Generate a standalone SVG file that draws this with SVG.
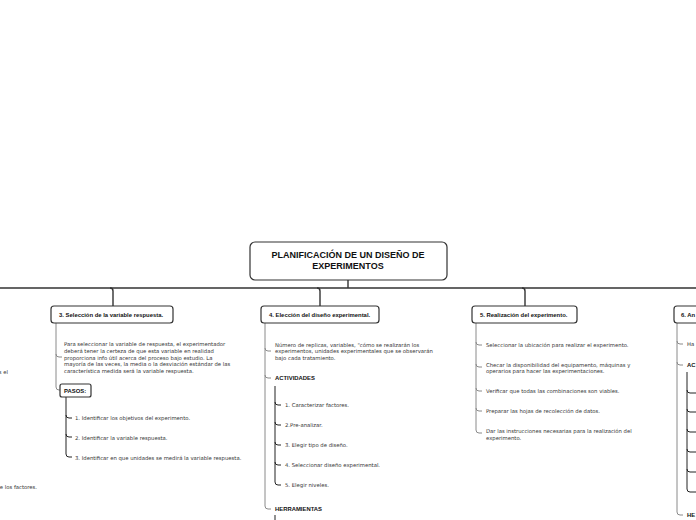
<svg xmlns="http://www.w3.org/2000/svg" width="696" height="520" viewBox="0 0 696 520">
<style>
.box{fill:#fff;stroke:#333;stroke-width:1.2}
.main{fill:none;stroke:#333;stroke-width:1.4}
.br{fill:none;stroke:#8a8a8a;stroke-width:1}
.sub{fill:none;stroke:#222;stroke-width:1}
.t{font-family:"DejaVu Sans",Verdana,sans-serif;font-size:5.3px;fill:#333}
.b{font-family:"Liberation Sans",Arial,sans-serif;font-size:5.9px;font-weight:bold;fill:#111}
.title{font-family:"Liberation Sans",Arial,sans-serif;font-size:9px;font-weight:bold;fill:#111;text-anchor:middle}
</style>
<rect width="696" height="520" fill="#fff"/>
<g id="connectors">
<path class="main" d="M348,280 V288 M0,288 H696"/>
<path class="main" d="M110,288 q3,0 3,3 V306"/>
<path class="main" d="M317,288 q3,0 3,3 V306"/>
<path class="main" d="M522,288 q3,0 3,3 V306"/>
<!-- col 3 -->
<path class="br" d="M56,323 V354 q0,3 3,3 h3 M56,354 V387 q0,3 3,3 h1"/>
<path class="sub" d="M66,397 V415 q0,3 3,3 h3 M66,415 V434 q0,3 3,3 h3 M66,434 V454 q0,3 3,3 h3" stroke="#555"/>
<!-- col 4 -->
<path class="br" d="M265,323 V348 q0,3 3,3 h3 M265,348 V375 q0,3 3,3 h3 M265,375 V506 q0,3 3,3 h3"/>
<path class="sub" d="M275,386 V402 q0,3 3,3 h3 M275,402 V422 q0,3 3,3 h3 M275,422 V442 q0,3 3,3 h3 M275,442 V462 q0,3 3,3 h3 M275,462 V482 q0,3 3,3 h3"/>
<path class="sub" d="M275,515 V520"/>
<!-- col 5 -->
<path class="br" d="M476,323 V342 q0,3 3,3 h3 M476,342 V364 q0,3 3,3 h3 M476,364 V388 q0,3 3,3 h3 M476,388 V408 q0,3 3,3 h3 M476,408 V430 q0,3 3,3 h3"/>
<!-- col 6 -->
<path class="br" d="M677,323 V341 q0,3 3,3 h3 M677,341 V362 q0,3 3,3 h3 M677,362 V512 q0,3 3,3 h3"/>
<path class="sub" d="M687,372 V390 q0,3 3,3 h6 M687,390 V409 q0,3 3,3 h6 M687,409 V429 q0,3 3,3 h6 M687,429 V449 q0,3 3,3 h6 M687,449 V469 q0,3 3,3 h6 M687,469 V489 q0,3 3,3 h6"/>
</g>
<g id="title">
<rect class="box" x="250" y="242" width="197" height="38" rx="5" stroke-width="1.4"/>
<text class="title" x="348" y="258">PLANIFICACIÓN DE UN DISEÑO DE</text>
<text class="title" x="348" y="269">EXPERIMENTOS</text>
</g>
<g id="col2">
<text class="t" x="8" y="374" text-anchor="end">s el</text>
<text class="t" x="37" y="489" text-anchor="end">e los factores.</text>
</g>
<g id="col3">
<rect class="box" x="51" y="306" width="122" height="17" rx="3"/>
<text class="b" x="59" y="317">3. Selección de la variable respuesta.</text>
<text class="t" x="64" y="346">Para seleccionar la variable de respuesta, el experimentador</text>
<text class="t" x="64" y="352.8">deberá tener la certeza de que esta variable en realidad</text>
<text class="t" x="64" y="359.6">proporciona info útil acerca del proceso bajo estudio. La</text>
<text class="t" x="64" y="366.4">mayoría de las veces, la media o la desviación estándar de las</text>
<text class="t" x="64" y="373.2">característica medida será la variable respuesta.</text>
</g>
<g id="pasos">
<rect class="box" x="60" y="384" width="31" height="13" rx="2" stroke="#666"/>
<text class="b" x="64" y="392.5">PASOS:</text>
<text class="t" x="75" y="420">1. Identificar los objetivos del experimento.</text>
<text class="t" x="75" y="439.5">2. Identificar la variable respuesta.</text>
<text class="t" x="75" y="459.5">3. Identificar en que unidades se medirá la variable respuesta.</text>
</g>
<g id="col4">
<rect class="box" x="261" y="306" width="118" height="17" rx="3"/>
<text class="b" x="269" y="317">4. Elección del diseño experimental.</text>
<text class="t" x="275" y="346.5">Número de replicas, variables, "cómo se realizarán los</text>
<text class="t" x="275" y="353.3">experimentos, unidades experimentales que se observarán</text>
<text class="t" x="275" y="360.1">bajo cada tratamiento.</text>
</g>
<g id="actividades4">
<text class="b" x="275" y="380">ACTIVIDADES</text>
<text class="t" x="285" y="407">1. Caracterizar factores.</text>
<text class="t" x="285" y="427">2.Pre-analizar.</text>
<text class="t" x="285" y="447">3. Elegir tipo de diseño.</text>
<text class="t" x="285" y="467">4. Seleccionar diseño experimental.</text>
<text class="t" x="285" y="487">5. Elegir niveles.</text>
</g>
<g id="herramientas4">
<text class="b" x="275" y="511">HERRAMIENTAS</text>
</g>
<g id="col5">
<rect class="box" x="472" y="306" width="105" height="17" rx="3"/>
<text class="b" x="480" y="317">5. Realización del experimento.</text>
<text class="t" x="486" y="347">Seleccionar la ubicación para realizar el experimento.</text>
<text class="t" x="486" y="367">Checar la disponibilidad del equipamento, máquinas y</text>
<text class="t" x="486" y="373">operarios para hacer las experimentaciones.</text>
<text class="t" x="486" y="393">Verificar que todas las combinaciones son viables.</text>
<text class="t" x="486" y="413">Preparar las hojas de recolección de datos.</text>
<text class="t" x="486" y="433">Dar las instrucciones necesarias para la realización del</text>
<text class="t" x="486" y="440">experimento.</text>
</g>
<g id="col6">
<rect class="box" x="674" y="306" width="60" height="17" rx="3"/>
<text class="b" x="681" y="317">6. An</text>
<text class="t" x="687" y="346">Ha</text>
<text class="b" x="687" y="367">AC</text>
<text class="b" x="687" y="517">HE</text>
</g>
</svg>
